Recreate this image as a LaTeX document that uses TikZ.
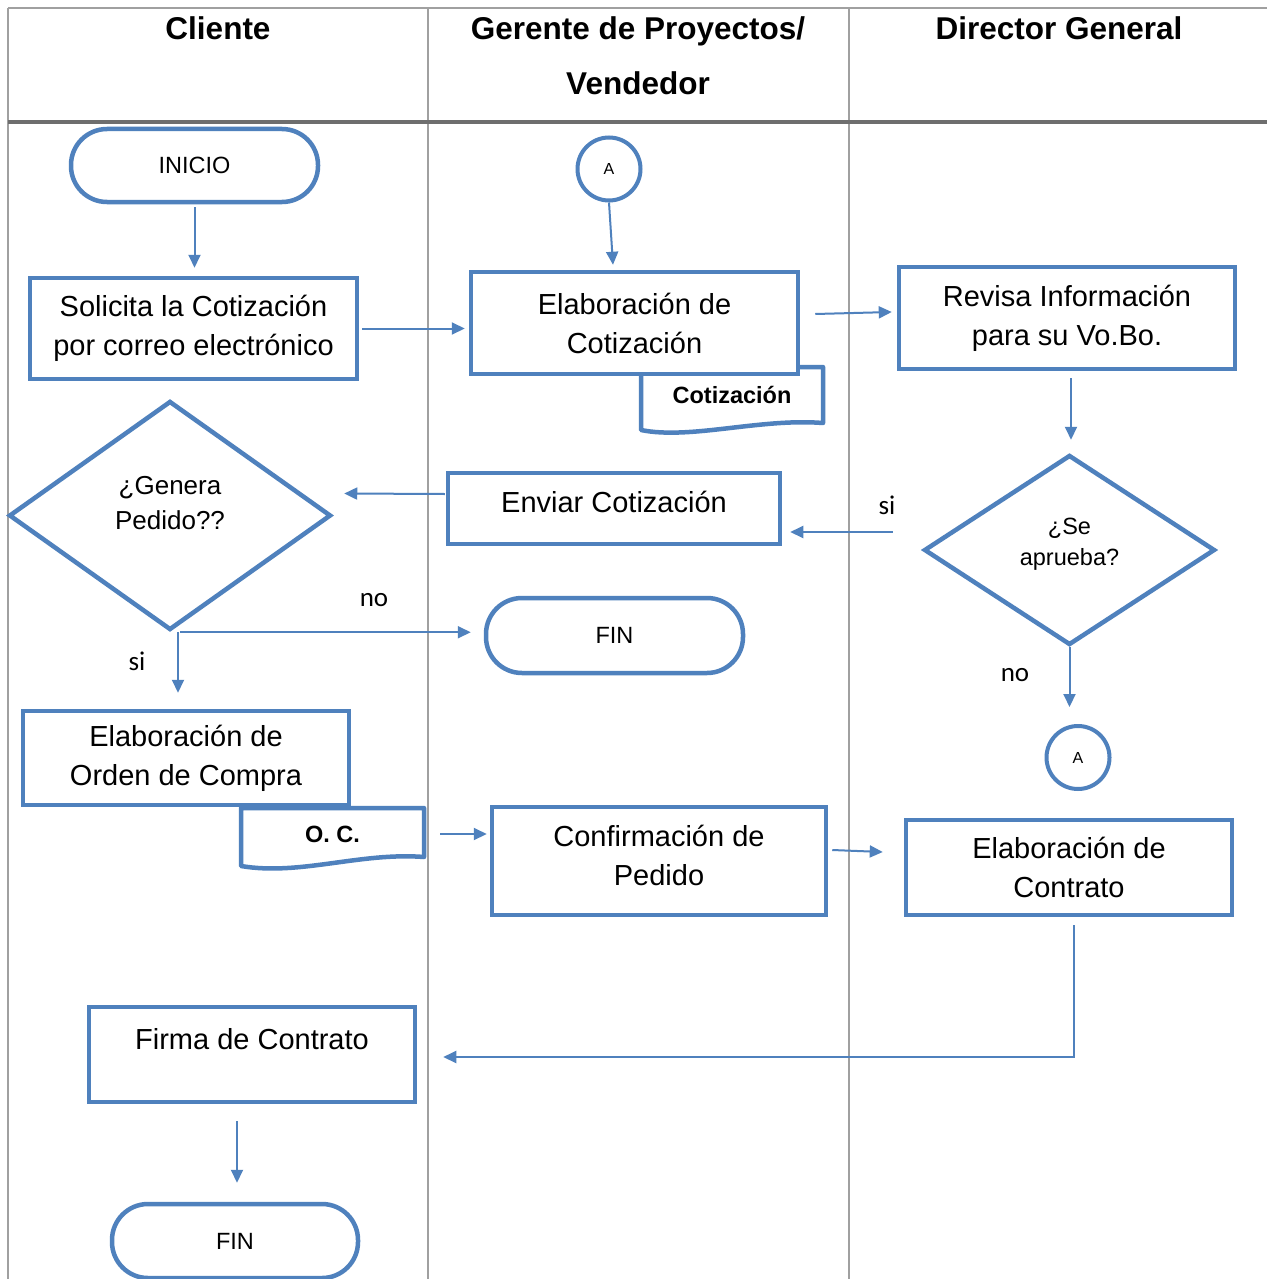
\documentclass[tikz,border=0pt]{standalone}
\usepackage{fontspec}
\setmainfont{Liberation Sans}
\newfontfamily\calibfont{Carlito}
\usetikzlibrary{shapes.geometric,arrows.meta,calc}
\definecolor{flowblue}{RGB}{79,129,189}
\definecolor{gridgray}{RGB}{160,160,160}
\definecolor{headgray}{RGB}{110,110,110}
\begin{document}
\begin{tikzpicture}[x=1pt,y=-1pt,
  box/.style={draw=flowblue, line width=4.5pt, fill=white, rectangle, inner sep=0pt, align=center, font=\fontsize{29}{39}\selectfont},
  boxtxt/.style={font=\fontsize{29}{39}\selectfont, align=center, inner sep=0pt},
  term/.style={draw=flowblue, line width=4.5pt, fill=white, rectangle, rounded corners=36pt, inner sep=0pt, font=\fontsize{23.5}{28}\selectfont},
  dec/.style={draw=flowblue, line width=4.5pt, fill=white, diamond, inner sep=0pt},
  dtxtA/.style={font=\fontsize{26}{35}\selectfont, align=center, inner sep=0pt},
  dtxtB/.style={font=\fontsize{23.5}{31}\selectfont, align=center, inner sep=0pt},
  conn/.style={draw=flowblue, line width=4pt, fill=white, circle, inner sep=0pt, minimum size=63pt, font=\fontsize{16}{18}\selectfont},
  arr/.style={draw=flowblue, line width=2pt, -{Triangle[length=13pt,width=12pt]}},
  yn/.style={font=\calibfont\fontsize{27}{32}\selectfont, inner sep=0pt},
  head/.style={font=\bfseries\fontsize{31.5}{55}\selectfont, align=center, inner sep=0pt},
  docfig/.style={draw=flowblue, line width=4.5pt, fill=white, line join=round},
  doctxt/.style={font=\bfseries\fontsize{23.5}{28}\selectfont, inner sep=0pt},
  gridline/.style={draw=gridgray, line width=1.5pt}
]
\useasboundingbox (0,0) rectangle (1267,1279);
\fill[white] (0,0) rectangle (1267,1279);

% table
\draw[gridline] (8,8) -- (1267,8);
\draw[gridline] (8,8) -- (8,1279);
\draw[gridline] (428,8) -- (428,1279);
\draw[gridline] (849,8) -- (849,1279);
\draw[headgray, line width=3.5pt] (8,122) -- (1267,122);

\node[head] (hc) at (218,28) {Cliente};
\node[head] (hg) at (638,56) {Gerente de Proyectos/\\Vendedor};
\node[head] (hd) at (1059,28) {Director General};

% nodes
\node[term, minimum width=247pt, minimum height=73pt] (inicio) at (194.5,165.5) {INICIO};
\node[conn] (a1) at (609,169) {A};
\node[box, minimum width=327pt, minimum height=101pt] (solicita) at (193.5,328.5) {Solicita la Cotización\\por correo electrónico};

\draw[docfig] (641,367) -- (823,367) -- (823,423) .. controls (760,418) and (690,440) .. (641,430) -- cycle;
\node[doctxt, minimum width=182pt] (cotdoc) at (732,395) {Cotización};
\node[box, minimum width=327pt, minimum height=102pt] (elabcot) at (634.5,323) {Elaboración de\\Cotización};

\node[box, minimum width=336pt, minimum height=102pt] (revisa) at (1067,318) {Revisa Información\\para su Vo.Bo.};

\node[dec, minimum width=322pt, minimum height=229pt,
  label={[dtxtA, yshift=12pt]center:{¿Genera\\Pedido??}}] (genera) at (170,515.5) {};
\node[box, minimum width=332pt, minimum height=71pt,
  label={[boxtxt, yshift=7pt]center:Enviar Cotización}] (enviar) at (614,508.5) {};
\node[dec, minimum width=291pt, minimum height=190pt,
  label={[dtxtB, yshift=5.5pt]center:{¿Se\\aprueba?}}] (seaprueba) at (1069.5,550) {};

\node[term, minimum width=257pt, minimum height=75pt] (finmid) at (614.5,635.5) {FIN};

\node[box, minimum width=326pt, minimum height=94pt] (ordcompra) at (186,758) {Elaboración de\\Orden de Compra};
\draw[docfig] (241,808) -- (424,808) -- (424,857) .. controls (360,852) and (300,876) .. (241,866) -- cycle;
\node[doctxt, minimum width=183pt] (oc) at (332.5,834) {O. C.};

\node[box, minimum width=334pt, minimum height=108pt,
  label={[boxtxt, yshift=5.5pt]center:{Confirmación de\\Pedido}}] (confirm) at (659,861) {};
\node[conn] (a2) at (1078,757.5) {A};
\node[box, minimum width=326pt, minimum height=95pt] (contrato) at (1069,867.5) {Elaboración de\\Contrato};

\node[box, minimum width=326pt, minimum height=95pt,
  label={[boxtxt, yshift=15.5pt]center:Firma de Contrato}] (firma) at (252,1054.5) {};
\node[term, minimum width=246pt, minimum height=74pt] (finbot) at (235,1241) {FIN};

% yes/no labels
\node[yn] (si1) at (887,505) {si};
\node[yn] (si2) at (137,661) {si};
\node[yn] (no1) at (374,600) {no};
\node[yn] (no2) at (1015,675) {no};

% connectors
\draw[arr, shorten <=3pt, shorten >=8pt] (inicio.south) -- (inicio.south |- solicita.north);
\draw[arr] (a1.south) -- ($(elabcot.north)+(-21.5,-5)$);
\draw[arr, shorten <=3pt, shorten >=4pt] (solicita.east) -- (elabcot.west |- solicita.east);
\draw[arr] ($(elabcot.east)+(15,-9)$) -- ($(revisa.west)+(-5,-6)$);
\draw[arr] ($(revisa.south)+(4,7)$) -- ($(seaprueba.north)+(1.5,-13)$);
\draw[arr] ($(seaprueba.west)+(-29,-18)$) -- ($(enviar.east)+(8,23.5)$);
\draw[arr] ($(enviar.west)+(-1,-14.5)$) -- ($(genera.east)+(11,-22)$);
\coordinate (gb) at ($(genera.south)+(8,0)$);
\draw[arr, shorten >=16pt] (gb) -- (gb |- ordcompra.north);
\draw[arr, shorten >=13pt] ($(gb)+(2,0)$) -- (finmid.west |- gb);
\draw[arr, shorten >=17pt] (seaprueba.south) -- (seaprueba.south |- a2.north);
\draw[arr, shorten >=3pt] ($(oc.east)+(16,0)$) -- (confirm.west |- oc.east);
\draw[arr] ($(confirm.east)+(4,-11)$) -- ($(contrato.west)+(-21,-15.5)$);
\draw[arr] ($(contrato.south)+(5,8)$) |- ($(firma.east)+(26,2.5)$);
\draw[arr] ($(firma.south)+(-15,17)$) -- ($(finbot.north)+(2,-19)$);
\end{tikzpicture}
\end{document}
